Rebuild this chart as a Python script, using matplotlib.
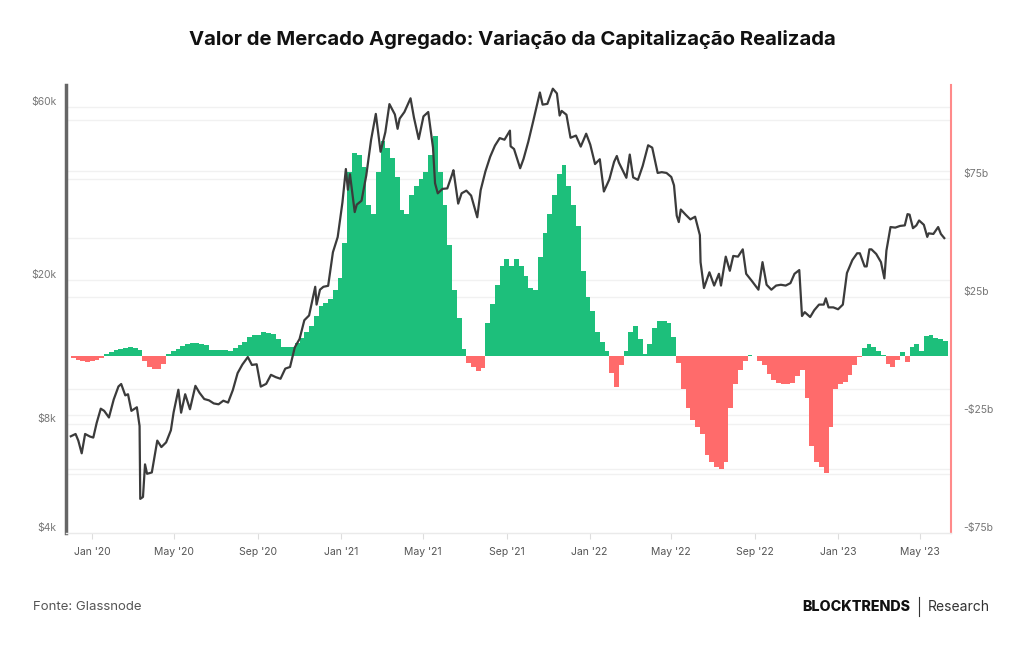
import numpy as np
import pandas as pd
import matplotlib
matplotlib.use('Agg')
import matplotlib.pyplot as plt
import matplotlib.transforms as mtransforms
from matplotlib.lines import Line2D
from matplotlib.ticker import NullLocator

plt.rcParams['font.family'] = ['Inter', 'DejaVu Sans']

# BTC price (left axis, log)
price_dates = [
    '2019-12-01', '2019-12-08', '2019-12-12', '2019-12-17', '2019-12-22', '2019-12-29',
    '2020-01-03', '2020-01-08', '2020-01-14', '2020-01-19', '2020-01-26', '2020-02-02',
    '2020-02-09', '2020-02-13', '2020-02-19', '2020-02-23', '2020-02-28', '2020-03-07',
    '2020-03-11', '2020-03-12', '2020-03-16', '2020-03-19', '2020-03-22', '2020-03-29',
    '2020-04-06', '2020-04-12', '2020-04-19', '2020-04-26', '2020-04-30', '2020-05-07',
    '2020-05-11', '2020-05-17', '2020-05-24', '2020-06-01', '2020-06-07', '2020-06-14',
    '2020-06-21', '2020-06-28', '2020-07-05', '2020-07-12', '2020-07-19', '2020-07-26',
    '2020-08-02', '2020-08-09', '2020-08-17', '2020-08-23', '2020-08-30', '2020-09-05',
    '2020-09-13', '2020-09-20', '2020-09-27', '2020-10-04', '2020-10-11', '2020-10-18',
    '2020-10-25', '2020-11-01', '2020-11-08', '2020-11-15', '2020-11-24', '2020-11-26',
    '2020-12-01', '2020-12-06', '2020-12-13', '2020-12-20', '2020-12-27', '2021-01-03',
    '2021-01-08', '2021-01-11', '2021-01-14', '2021-01-21', '2021-01-24', '2021-01-31',
    '2021-02-07', '2021-02-14', '2021-02-21', '2021-02-28', '2021-03-07', '2021-03-13',
    '2021-03-21', '2021-03-25', '2021-03-28', '2021-04-04', '2021-04-13', '2021-04-18',
    '2021-04-25', '2021-05-02', '2021-05-09', '2021-05-16', '2021-05-19', '2021-05-23',
    '2021-05-30', '2021-06-06', '2021-06-13', '2021-06-15', '2021-06-22', '2021-06-27',
    '2021-07-04', '2021-07-11', '2021-07-20', '2021-07-25', '2021-08-01', '2021-08-08',
    '2021-08-15', '2021-08-22', '2021-08-29', '2021-09-06', '2021-09-07', '2021-09-12',
    '2021-09-21', '2021-09-26', '2021-10-03', '2021-10-10', '2021-10-20', '2021-10-24',
    '2021-10-31', '2021-11-08', '2021-11-14', '2021-11-18', '2021-11-21', '2021-11-28',
    '2021-12-04', '2021-12-12', '2021-12-19', '2021-12-27', '2022-01-02', '2022-01-09',
    '2022-01-16', '2022-01-22', '2022-01-30', '2022-02-06', '2022-02-10', '2022-02-13',
    '2022-02-24', '2022-03-01', '2022-03-06', '2022-03-13', '2022-03-20', '2022-03-28',
    '2022-04-03', '2022-04-11', '2022-04-17', '2022-04-24', '2022-05-01', '2022-05-05',
    '2022-05-09', '2022-05-12', '2022-05-15', '2022-05-22', '2022-05-29', '2022-06-05',
    '2022-06-12', '2022-06-13', '2022-06-18', '2022-06-26', '2022-07-03', '2022-07-10',
    '2022-07-13', '2022-07-20', '2022-07-26', '2022-07-31', '2022-08-07', '2022-08-14',
    '2022-08-19', '2022-08-28', '2022-09-06', '2022-09-12', '2022-09-18', '2022-09-25',
    '2022-10-02', '2022-10-09', '2022-10-16', '2022-10-23', '2022-10-29', '2022-11-05',
    '2022-11-09', '2022-11-13', '2022-11-21', '2022-11-27', '2022-12-04', '2022-12-11',
    '2022-12-14', '2022-12-18', '2022-12-25', '2023-01-01', '2023-01-08', '2023-01-14',
    '2023-01-22', '2023-01-29', '2023-02-02', '2023-02-09', '2023-02-12', '2023-02-16',
    '2023-02-19', '2023-02-26', '2023-03-05', '2023-03-10', '2023-03-13', '2023-03-19',
    '2023-03-26', '2023-04-02', '2023-04-09', '2023-04-13', '2023-04-16', '2023-04-21',
    '2023-04-26', '2023-04-30', '2023-05-07', '2023-05-12', '2023-05-14', '2023-05-21',
    '2023-05-28', '2023-06-01', '2023-06-06',
]
price_vals = [
    7400, 7510, 7200, 6640, 7510, 7390,
    7340, 8060, 8820, 8700, 8340, 9350,
    10160, 10320, 9600, 9670, 8700, 8900,
    7900, 4970, 5030, 6190, 5830, 5880,
    7200, 6910, 7120, 7690, 8620, 9950,
    8600, 9670, 8790, 10200, 9760, 9380,
    9300, 9120, 9070, 9280, 9170, 9930,
    11060, 11680, 12250, 11650, 11700, 10150,
    10330, 10940, 10780, 10670, 11380, 11500,
    13030, 13740, 15480, 15960, 19150, 17100,
    18800, 19150, 19270, 23860, 26270, 32780,
    40500, 35500, 39200, 30800, 32290, 33100,
    38900, 48700, 57500, 45200, 51200, 61200,
    57300, 52300, 55800, 58200, 63500, 56200,
    49000, 56600, 58200, 46400, 37000, 34700,
    35700, 35800, 39100, 40200, 32500, 34700,
    35300, 34200, 29800, 35400, 39900, 43800,
    47000, 49300, 48800, 51700, 46800, 46000,
    40700, 43200, 48200, 54700, 65900, 61000,
    61300, 67500, 65500, 56900, 58600, 57200,
    49400, 50100, 46700, 50700, 47300, 41800,
    43100, 35100, 37900, 42400, 44000, 42200,
    38300, 44400, 38400, 37800, 41300, 47100,
    46400, 39500, 39700, 39500, 38500, 36500,
    30100, 28900, 31300, 30300, 29400, 29900,
    26600, 22400, 19000, 21000, 19300, 20800,
    19300, 23200, 21200, 23300, 23200, 24300,
    20800, 19800, 18800, 22400, 19400, 18800,
    19300, 19400, 19300, 19600, 20800, 21300,
    15900, 16300, 15800, 16500, 17100, 17100,
    17800, 16800, 16800, 16600, 17100, 20900,
    22700, 23700, 23700, 21800, 21800, 24300,
    24300, 23600, 22400, 20200, 24100, 28000,
    27900, 28200, 28300, 30400, 30300, 27800,
    28300, 29200, 28400, 26300, 26900, 26800,
    28000, 26800, 26100,
]

# change of realized cap, weekly, billions (right axis)
bar_start = '2019-12-01'
bar_vals = [
    -1.0, -1.5, -2.0, -2.5, -2.0, -1.5, -1.0, 0.8, 1.5, 2.5,
    3.0, 3.5, 3.6, 3.2, 2.5, -2.0, -4.5, -5.5, -5.3, -3.5,
    1.0, 2.0, 3.0, 4.2, 5.2, 5.6, 5.4, 5.0, 4.5, 2.6,
    2.4, 2.5, 2.4, 2.3, 3.5, 4.8, 5.8, 8.0, 9.0, 8.7,
    10.3, 9.8, 9.3, 7.0, 4.0, 4.0, 4.0, 5.5, 7.7, 10.0,
    12.5, 17.0, 21.0, 22.5, 24.0, 28.0, 33.0, 48.0, 78.0, 86.0,
    85.0, 80.0, 64.0, 60.0, 78.0, 91.0, 88.0, 84.0, 76.0, 62.0,
    60.0, 68.0, 72.0, 75.0, 78.0, 85.0, 93.0, 78.0, 64.0, 47.0,
    28.0, 16.0, 3.0, -3.0, -4.5, -6.5, -5.0, 14.0, 22.0, 30.0,
    38.0, 41.0, 38.0, 41.0, 38.0, 34.0, 29.0, 28.0, 42.0, 52.0,
    60.0, 68.0, 77.0, 81.0, 72.0, 64.0, 55.0, 36.0, 25.0, 19.0,
    10.0, 6.0, 2.0, -7.0, -13.0, -4.0, 2.0, 10.0, 12.5, 7.0,
    1.0, 5.0, 12.0, 15.0, 15.0, 14.0, 8.0, -3.0, -14.0, -22.0,
    -27.0, -30.0, -33.0, -42.0, -45.0, -47.0, -48.0, -45.0, -22.0, -12.0,
    -6.0, -2.0, 0.3, 0.2, -2.0, -4.0, -7.5, -10.0, -11.5, -12.0,
    -12.0, -11.4, -8.5, -6.0, -18.0, -38.0, -45.0, -47.0, -49.5, -30.0,
    -14.0, -12.0, -11.0, -8.0, -4.0, -0.5, 3.5, 5.0, 4.0, 2.0,
    0.5, -3.5, -4.5, -1.5, 1.5, -2.5, 4.0, 5.0, 2.0, 8.5,
    9.0, 7.5, 7.0, 6.5,
]

x_ticks = ['2020-01-01', '2020-05-01', '2020-09-01', '2021-01-01', '2021-05-01', '2021-09-01',
           '2022-01-01', '2022-05-01', '2022-09-01', '2023-01-01', '2023-05-01']
x_labels = ["Jan '20", "May '20", "Sep '20", "Jan '21", "May '21", "Sep '21",
            "Jan '22", "May '22", "Sep '22", "Jan '23", "May '23"]
left_ticks = [4000, 8000, 20000, 60000]
left_labels = ['$4k', '$8k', '$20k', '$60k']
left_grid = [6000, 8000, 10000, 20000, 40000, 60000]
right_ticks = [-75, -25, 25, 75]
right_labels = ['-$75b', '-$25b', '$25b', '$75b']
right_grid = [-50, -25, 25, 50, 75, 100]

green = '#1dbf7b'
red = '#ff6b6b'

fig = plt.figure(figsize=(10.24, 6.45), dpi=100)
ax = fig.add_axes([0.0645, 0.1736, 0.8643, 0.6946])
ax2 = ax.twinx()
ax.set_zorder(ax2.get_zorder() + 1)
ax.patch.set_visible(False)

ax.set_yscale('log')
ax.set_ylim(4000, 69100)
ax2.set_ylim(-75, 114.8)
ax.set_xlim(pd.Timestamp('2019-11-24'), pd.Timestamp('2023-06-16'))

# grid lines (both scales) drawn under the bars
for v in right_grid:
    ax2.axhline(v, color='#f1f1f1', lw=1, zorder=0)
trans = mtransforms.blended_transform_factory(ax2.transAxes, ax.transData)
for v in left_grid:
    ax2.add_line(Line2D([0, 1], [v, v], transform=trans, color='#f1f1f1', lw=1, zorder=0))

bar_dates = pd.date_range(bar_start, periods=len(bar_vals), freq='7D')
colors = [green if v >= 0 else red for v in bar_vals]
ax2.bar(bar_dates, bar_vals, width=7, align='edge', color=colors, linewidth=0, zorder=2)

ax.plot(pd.to_datetime(price_dates), price_vals, color='#3b3b3b', lw=1.6, zorder=3)

# axes styling
ax.set_xticks(pd.to_datetime(x_ticks))
ax.set_xticklabels(x_labels)
ax.tick_params(axis='x', length=4, color='#dddddd', labelsize=7.5, labelcolor='#555555', pad=6)

ax.set_yticks(left_ticks)
ax.set_yticklabels(left_labels)
ax.yaxis.set_minor_locator(NullLocator())
ax.tick_params(axis='y', length=0, pad=7, labelsize=7.5, labelcolor='#777777')
plt.setp(ax.get_yticklabels(), va='bottom')

ax2.set_yticks(right_ticks)
ax2.set_yticklabels(right_labels)
ax2.tick_params(axis='y', length=0, pad=9, labelsize=7.5, labelcolor='#777777')
plt.setp(ax2.get_yticklabels(), va='bottom')

for s in ['top', 'right']:
    ax.spines[s].set_visible(False)
for s in ['top', 'left', 'bottom']:
    ax2.spines[s].set_visible(False)
ax.spines['left'].set_color('#666666')
ax.spines['left'].set_linewidth(2.5)
ax.spines['bottom'].set_color('#eaeaea')
ax.spines['bottom'].set_linewidth(1)
ax2.spines['right'].set_color('#ff8a8a')
ax2.spines['right'].set_linewidth(1.5)

fig.text(0.5, 0.938, 'Valor de Mercado Agregado: Variação da Capitalização Realizada',
         ha='center', va='center', fontsize=14.6, fontweight='bold', color='#111111')

fig.text(33 / 1024, 0.059, 'Fonte: Glassnode', ha='left', va='center', fontsize=9.5, color='#555555')
fig.text(910 / 1024, 0.059, 'BLOCKTRENDS', ha='right', va='center', fontsize=10.3,
         fontweight='heavy', color='#111111')
fig.add_artist(Line2D([919 / 1024, 919 / 1024], [0.045, 0.075], color='#333333', lw=0.8))
fig.text(928 / 1024, 0.059, 'Research', ha='left', va='center', fontsize=10, color='#333333')

fig.savefig('out.png', dpi=100, facecolor='white')
